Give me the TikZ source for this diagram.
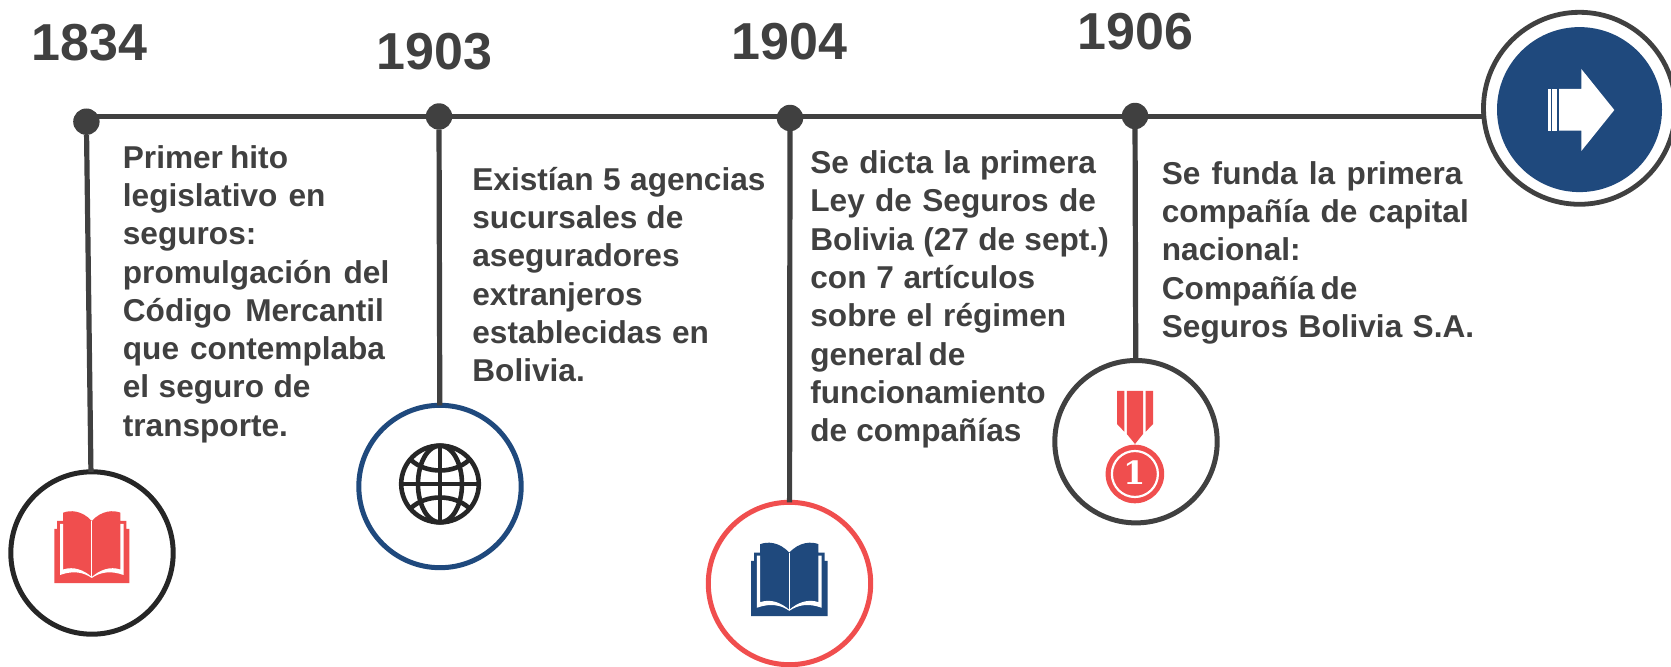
\documentclass[tikz,border=0pt]{standalone}
\usepackage{fontspec}
\setmainfont{Liberation Sans}
\newfontfamily\medalfont{DejaVu Serif}
\definecolor{ink}{HTML}{404040}
\definecolor{navy}{HTML}{1F497D}
\definecolor{coral}{HTML}{F04E4E}
\definecolor{coal}{HTML}{262626}
\newcommand{\tl}[2]{\makebox[\dimexpr #1pt*53285/100000\relax][s]{\rule{0pt}{13pt}#2}}
\tikzset{
  year/.style={anchor=base,text=ink,inner sep=0pt,font=\bfseries\fontsize{26}{30}\selectfont},
  body/.style={anchor=north west,align=left,text=ink,inner sep=0pt,font=\bfseries\fontsize{15.8}{19.15}\selectfont},
  dot/.style={circle,fill=ink,minimum size=13.2pt,inner sep=0pt,outer sep=0pt},
  ring/.style={circle,draw=#1,fill=white,line width=2.5pt,minimum size=81.2pt,inner sep=0pt,outer sep=0pt},
  stem/.style={draw=ink,line width=2.6pt},
  pics/book/.style={code={
    \fill[#1] (-37.5,36.2) -- (-37.5,-18) -- (-34.6,-18) -- (-34.6,-26) -- (-28.6,-26) -- (-28.6,-34.3)
      .. controls (-22,-37) and (-10,-37) .. (0,-26)
      .. controls (10,-37) and (22,-37) .. (28.6,-34.3)
      -- (28.6,-26) -- (34.6,-26) -- (34.6,-18) -- (37.5,-18) -- (37.5,36.2) -- cycle;
    \fill[white] (-31.8,-23) -- (-28.6,-23) -- (-28.6,22.5)
      .. controls (-18,19) and (-8,23) .. (0,30)
      .. controls (8,23) and (18,19) .. (28.6,22.5)
      -- (28.6,-23) -- (31.8,-23) -- (31.8,28)
      .. controls (18,23) and (8,25.5) .. (0,31)
      .. controls (-8,25.5) and (-18,23) .. (-31.8,28) -- cycle;
    \draw[white,line width=0.45pt] (0,-26) -- (0,30);
  }},
}
\begin{document}
\begin{tikzpicture}[x=0.5pt,y=-0.5pt]
\useasboundingbox (0,0) rectangle (1671,667);
% dots
\node[dot] (d1) at (86.4,121.7) {};
\node[dot] (d2) at (439,116.5) {};
\node[dot] (d3) at (790,118) {};
\node[dot] (d4) at (1135,116) {};
\coordinate (axis) at (0,116.7);
% rings
\node[ring=coal] (c1) at (92,553) {};
\node[ring=navy] (c2) at (440,486.5) {};
\node[ring=coral] (c3) at (789.5,583.5) {};
\node[ring=ink] (c4) at (1136,441.7) {};
\node[circle,draw=ink,fill=white,line width=2.4pt,minimum size=96pt,inner sep=0pt,outer sep=0pt] (big) at (1579.5,108.3) {};
% connectors
\draw[stem] (d1.center |- axis) -- (big.west |- axis);
\draw[stem] (d1) -- (c1);
\draw[stem] (d2) -- (c2);
\draw[stem] (d3) -- (c3);
\draw[stem] (d4) -- (c4);
% years
\node[year] (y1) at (89.5,60.7) {1834};
\node[year] (y2) at (434.3,70) {1903};
\node[year] (y3) at (789.7,59.7) {1904};
\node[year] (y4) at (1135.5,50) {1906};
% texts
\node[body] (t1) at (122.5,141.8) {\tl{155}{Primer hito}\\\tl{190}{legislativo en}\\\tl{112}{seguros:}\\\tl{250}{promulgación del}\\\tl{245}{Código Mercantil}\\\tl{246}{que contemplaba}\\\tl{176}{el seguro de}\\\tl{158}{transporte.}};
\node[body] (t2) at (472,164) {\tl{275}{Existían 5 agencias}\\\tl{198}{sucursales de}\\\tl{198}{aseguradores}\\\tl{156}{extranjeros}\\\tl{222}{establecidas en}\\\tl{104}{Bolivia.}};
\node[body] (t3) at (810,147.2) {\tl{268}{Se dicta la primera}\\\tl{268}{Ley de Seguros de}\\\tl{280}{Bolivia (27 de sept.)}\\\tl{211}{con 7 artículos}\\\tl{240}{sobre el régimen}\\\tl{137}{general de}\\\tl{220}{funcionamiento}\\\tl{198}{de compañías}};
\node[body] (t4) at (1161.5,157.8) {\tl{282}{Se funda la primera}\\\tl{288}{compañía de capital}\\\tl{128}{nacional:}\\\tl{159}{Compañía de}\\\tl{293}{Seguros Bolivia S.A.}};
% arrow icon
\fill[navy] (big.center) ++(0,1.3) circle (82.5);
\fill[white] (1614.3,110) -- (1581.3,69) -- (1581.3,89) -- (1559,89) -- (1559,130.7) -- (1581.3,130.7) -- (1581.3,151) -- cycle;
\fill[white] (1547.7,89) rectangle (1550.7,130.7);
\fill[white] (1552.3,89) rectangle (1556.7,130.7);
% books
\pic at (91.8,547) {book=coral};
\pic[scale=1.02] at (789.3,579.2) {book=navy};
% globe
\begin{scope}[shift={(440,484)},draw=coal,line width=2.3pt]
  \draw (0,0) circle [x radius=19.4pt,y radius=19.2pt];
  \draw (0,0) circle [x radius=11pt,y radius=19.2pt];
  \draw (-39,0) -- (39,0);
  \draw (0,-39) -- (0,39);
  \draw (-29,-24) .. controls (-14,-10) and (14,-10) .. (29,-24);
  \draw (-29,24) .. controls (-14,10) and (14,10) .. (29,24);
\end{scope}
% medal
\fill[coral] (1117,391) -- (1124.3,391) -- (1124.3,431.7) -- (1117,424) -- cycle;
\fill[coral] (1153,391) -- (1145.7,391) -- (1145.7,431.7) -- (1153,424) -- cycle;
\fill[coral] (1126.8,391) -- (1143,391) -- (1143,434) -- (1135,444) -- (1126.8,434) -- cycle;
\fill[coral] (1134.9,474) circle (29.3);
\draw[white,line width=1.1pt] (1134.9,474) circle (23);
\node[text=white,inner sep=0pt,font=\medalfont\bfseries\fontsize{16}{18}\selectfont] (m1) at (1134.9,473) {1};
\end{tikzpicture}
\end{document}
